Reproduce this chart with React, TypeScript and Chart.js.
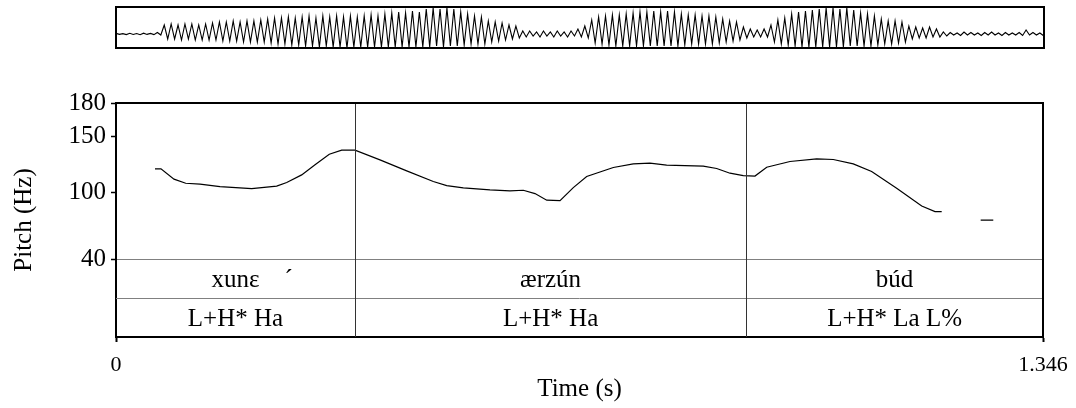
import React, { useEffect, useRef } from "react";
import { Chart, registerables } from "chart.js";

Chart.register(...registerables);

// ---------- data ----------
const timeMax = 1.346;

const pitchTimes = [
  0.0566, 0.0653, 0.0842, 0.1012, 0.122, 0.151, 0.197, 0.2333, 0.2479, 0.2696,
  0.289, 0.3097, 0.3277, 0.347, 0.3833, 0.4221, 0.4607, 0.4802, 0.5043, 0.543,
  0.572, 0.5914, 0.6084, 0.6254, 0.6447, 0.664, 0.6834, 0.7221, 0.7511, 0.7753,
  0.7995, 0.8527, 0.8722, 0.8915, 0.9108, 0.9278, 0.9448, 0.9786, 1.0174, 1.0415,
  1.0705, 1.0972, 1.1335, 1.1699, 1.1892, 1.1989, 1.22, 1.2555, 1.2738,
];
const pitchValues: (number | null)[] = [
  120.9, 121, 111.7, 108, 107.2, 105, 103.2, 105.4, 108.6, 115.5,
  124.5, 134, 137.7, 137.7, 129, 119.1, 109.5, 105.9, 103.8, 102,
  101.1, 101.7, 98.7, 92.8, 92.4, 104.1, 114, 122.1, 125.4, 126,
  124.2, 123.3, 121.2, 117, 114.9, 114.4, 122.4, 127.5, 129.9, 129.3,
  125.4, 118.5, 103.5, 87.6, 82.5, 82.5, null, 74.8, 74.8,
];

const yTicks = [40, 100, 150, 180];
const xTicks = [0, 1.346];
const xTickLabels = ["0", "1.346"];

const tierBounds = [0, 0.347, 0.915, 1.346];
const wordTier = ["xunɛ\u00A0\u00A0\u00A0\u00A0´", "ærzún", "búd"];
const toneTier = ["L+H* Ha", "L+H* Ha", "L+H* La L%"];

const waveStep = 0.01;
const waveTop = [
  0.6, 0.4, 0.7, 0.5, 0.8, 0.6, 1.5, 9, 10, 9,
  10, 10, 9, 10, 11, 12, 12, 13, 12, 13,
  13, 14, 15, 16, 16, 17, 16, 17, 18, 16,
  18, 17, 18, 17, 18, 17, 18, 19, 18, 20,
  21, 22, 21, 23, 22, 25, 26, 25, 26, 25,
  22, 20, 18, 17, 13, 12, 11, 9, 8, 3,
  3, 2, 3, 2, 3, 2, 3, 5, 8, 14,
  17, 18, 19, 19, 20, 21, 22, 22, 23, 22,
  23, 22, 20, 19, 19, 18, 18, 17, 15, 13,
  12, 7, 5, 4, 5, 9, 14, 16, 20, 22,
  23, 24, 25, 26, 26, 25, 26, 24, 21, 20,
  18, 15, 13, 13, 12, 8, 7, 6, 7, 5,
  2, 1.5, 1, 2, 1.5, 1, 1.5, 2, 1, 1.5,
  1, 1.5, 4, 1.5, 1,
];
const waveBottom = [
  0.4, 0.6, 0.5, 0.7, 0.4, 0.6, 1, 5, 5, 6,
  5, 6, 6, 6, 6, 7, 7, 7, 8, 8,
  8, 8, 9, 10, 10, 11, 11, 12, 12, 13,
  12, 13, 13, 14, 13, 13, 13, 13, 13, 13,
  13, 13, 13, 13, 13, 13, 12, 13, 12, 12,
  11, 10, 10, 10, 8, 7, 6, 5, 4, 3,
  2, 3, 2, 3, 2, 3, 2, 3, 4, 9,
  10, 11, 12, 12, 12, 12, 12, 12, 12, 12,
  12, 12, 11, 10, 10, 10, 10, 9, 8, 7,
  6, 4, 3, 3, 3, 8, 10, 11, 12, 13,
  13, 13, 13, 13, 13, 13, 12, 12, 12, 12,
  11, 10, 10, 9, 8, 5, 4, 4, 3, 3,
  2, 1, 1.5, 1, 1, 1.5, 1, 1, 1.5, 1,
  1, 1.5, 1, 1, 1.5,
];

// ---------- styles ----------
const FONT_FAMILY = "'Liberation Serif', 'Times New Roman', serif";
const FONT_SIZE = 25;

const framePlugin = {
  id: "waveFrame",
  afterDraw(chart: any) {
    const { ctx, chartArea } = chart;
    ctx.save();
    ctx.strokeStyle = "#000";
    ctx.lineWidth = 2;
    ctx.strokeRect(chartArea.left, chartArea.top, chartArea.right - chartArea.left, chartArea.bottom - chartArea.top);
    ctx.restore();
  },
};

const tierPlugin = {
  id: "tiers",
  afterDraw(chart: any) {
    const { ctx, chartArea } = chart;
    const { left, right, top, bottom } = chartArea;
    const xs = chart.scales.x;
    const ys = chart.scales.y;
    const tierTop = ys.getPixelForValue(40);
    const mid = (tierTop + bottom) / 2;
    ctx.save();
    // divider between tiers
    ctx.strokeStyle = "#808080";
    ctx.lineWidth = 1;
    ctx.beginPath();
    ctx.moveTo(left, Math.round(mid) + 0.5);
    ctx.lineTo(right, Math.round(mid) + 0.5);
    ctx.stroke();
    // interval boundaries
    ctx.strokeStyle = "#333";
    ctx.lineWidth = 1;
    tierBounds.slice(1, -1).forEach((b) => {
      const px = Math.round(xs.getPixelForValue(b)) + 0.5;
      ctx.beginPath();
      ctx.moveTo(px, top);
      ctx.lineTo(px, bottom);
      ctx.stroke();
    });
    // frame top & right
    ctx.strokeStyle = "#000";
    ctx.lineWidth = 2;
    ctx.beginPath();
    ctx.moveTo(left - 1, top);
    ctx.lineTo(right, top);
    ctx.lineTo(right, bottom);
    ctx.stroke();
    // tier labels
    ctx.fillStyle = "#000";
    ctx.font = `${FONT_SIZE}px ${FONT_FAMILY}`;
    ctx.textBaseline = "alphabetic";
    ctx.textAlign = "left";
    const tiers = [
      { labels: wordTier, y0: tierTop, y1: mid },
      { labels: toneTier, y0: mid, y1: bottom },
    ];
    tiers.forEach((tier) => {
      const h = tier.y1 - tier.y0;
      tier.labels.forEach((lab, i) => {
        const cx = (xs.getPixelForValue(tierBounds[i]) + xs.getPixelForValue(tierBounds[i + 1])) / 2;
        const head = lab.split("\u00A0")[0];
        const w = ctx.measureText(head).width;
        ctx.fillText(lab, cx - w / 2, tier.y0 + h * 0.71);
      });
    });
    ctx.restore();
  },
};

export default function App() {
  const waveRef = useRef<HTMLCanvasElement>(null);
  const pitchRef = useRef<HTMLCanvasElement>(null);

  useEffect(() => {
    const font = { family: FONT_FAMILY, size: FONT_SIZE };
    const xTickFont = { family: FONT_FAMILY, size: 22 };

    const wavePoints: { x: number; y: number }[] = [];
    waveTop.forEach((v, i) => {
      wavePoints.push({ x: i * waveStep, y: v });
      wavePoints.push({ x: i * waveStep + waveStep / 2, y: -waveBottom[i] });
    });

    const wave = new Chart(waveRef.current!, {
      type: "line",
      data: {
        datasets: [
          {
            data: wavePoints,
            borderColor: "#000",
            borderWidth: 1.1,
            pointRadius: 0,
            tension: 0,
          },
        ],
      },
      options: {
        animation: false,
        responsive: false,
        devicePixelRatio: 1,
        layout: { padding: { left: 116, right: 32, top: 7, bottom: 12 } },
        plugins: { legend: { display: false }, tooltip: { enabled: false } },
        scales: {
          x: { type: "linear", display: false, min: 0, max: timeMax },
          y: { type: "linear", display: false, min: -14, max: 27 },
        },
      },
      plugins: [framePlugin],
    });

    const pitch = new Chart(pitchRef.current!, {
      type: "line",
      data: {
        datasets: [
          {
            data: pitchTimes.map((t, i) => ({ x: t, y: pitchValues[i] as any })),
            borderColor: "#000",
            borderWidth: 1.2,
            pointRadius: 0,
            tension: 0,
            spanGaps: false,
          },
        ],
      },
      options: {
        animation: false,
        responsive: false,
        devicePixelRatio: 1,
        layout: { padding: { left: 0, right: 33, top: 43, bottom: 0 } },
        plugins: { legend: { display: false }, tooltip: { enabled: false } },
        scales: {
          x: {
            type: "linear",
            min: 0,
            max: timeMax,
            afterFit(s: any) {
              s.height = 71;
              s.paddingLeft = 0;
              s.paddingRight = 0;
            },
            afterBuildTicks(s: any) {
              s.ticks = xTicks.map((v) => ({ value: v }));
            },
            ticks: {
              font: xTickFont,
              color: "#000",
              padding: 10,
              maxRotation: 0,
              autoSkip: false,
              callback: (v: any) => xTickLabels[xTicks.indexOf(Number(v))] ?? "",
            },
            grid: {
              drawOnChartArea: false,
              drawTicks: true,
              tickLength: 5,
              tickColor: "#000",
              tickWidth: 2,
            },
            border: { display: true, color: "#000", width: 2 },
            title: { display: true, text: "Time (s)", font, color: "#000", padding: { top: 0, bottom: 4 } },
          },
          y: {
            type: "linear",
            min: -30,
            max: 180,
            afterFit(s: any) {
              s.width = 116;
              s.paddingTop = 0;
              s.paddingBottom = 0;
            },
            afterBuildTicks(s: any) {
              s.ticks = yTicks.map((v) => ({ value: v }));
            },
            ticks: {
              font,
              color: "#000",
              padding: 5,
              autoSkip: false,
              callback: (v: any) => String(v),
            },
            grid: {
              color: (c: any) => (c.tick && c.tick.value === 40 ? "#808080" : "rgba(0,0,0,0)"),
              tickColor: "#000",
              tickLength: 5,
              tickWidth: 1.5,
              lineWidth: 1,
              drawTicks: true,
            },
            border: { display: true, color: "#000", width: 2 },
            title: { display: true, text: "Pitch (Hz)", font, color: "#000", padding: { top: 9, bottom: 0 } },
          },
        },
      },
      plugins: [tierPlugin],
    });

    return () => {
      wave.destroy();
      pitch.destroy();
    };
  }, []);

  return (
    <div style={{ position: "absolute", left: 0, top: 0, width: 1076, height: 408, background: "#fff" }}>
      <canvas
        ref={waveRef}
        width={1076}
        height={60}
        style={{ position: "absolute", left: 0, top: 0, width: 1076, height: 60, display: "block" }}
      />
      <canvas
        ref={pitchRef}
        width={1076}
        height={348}
        style={{ position: "absolute", left: 0, top: 60, width: 1076, height: 348, display: "block" }}
      />
    </div>
  );
}
